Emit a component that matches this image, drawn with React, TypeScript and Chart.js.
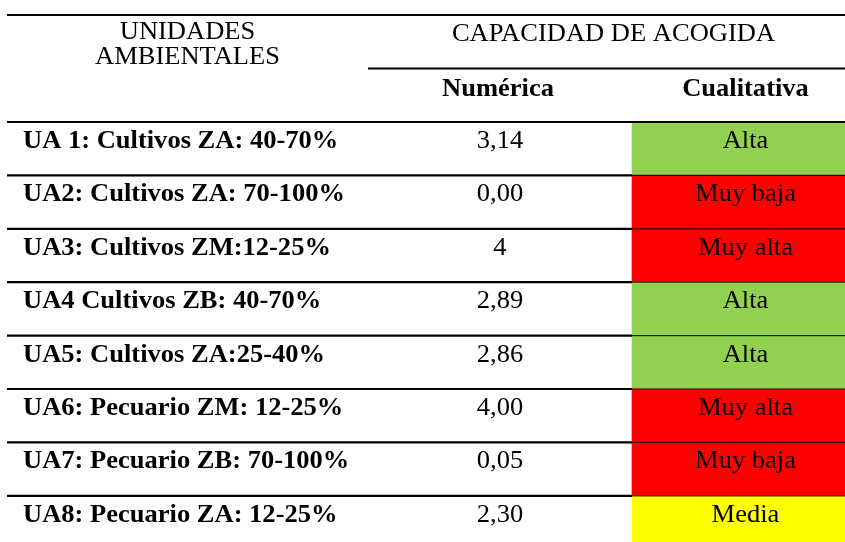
import React, { useEffect, useRef } from "react";
import { Chart, registerables } from "chart.js";

Chart.register(...registerables);

// ---- data ----
const UNITS = [
  "UA 1: Cultivos ZA: 40-70%",
  "UA2: Cultivos ZA: 70-100%",
  "UA3: Cultivos ZM:12-25%",
  "UA4 Cultivos ZB: 40-70%",
  "UA5: Cultivos ZA:25-40%",
  "UA6: Pecuario ZM: 12-25%",
  "UA7: Pecuario ZB: 70-100%",
  "UA8: Pecuario ZA: 12-25%",
];
const NUMERIC = ["3,14", "0,00", "4", "2,89", "2,86", "4,00", "0,05", "2,30"];
const QUALITATIVE = ["Alta", "Muy baja", "Muy alta", "Alta", "Alta", "Muy alta", "Muy baja", "Media"];
const CLASS_COLORS: Record<string, string> = {
  Alta: "#92D050",
  "Muy baja": "#FF0000",
  "Muy alta": "#FF0000",
  Media: "#FFFF00",
};
const HEAD_UNITS = ["UNIDADES", "AMBIENTALES"];
const HEAD_CAP = "CAPACIDAD DE ACOGIDA";
const HEAD_NUM = "Numérica";
const HEAD_QUAL = "Cualitativa";

// ---- layout (pixels, x scale = canvas px) ----
const W = 845;
const H = 560;
const TABLE_LEFT = 7;
const COL2_LEFT = 368;
const COL3_LEFT = 632;
const COL3_RIGHT = 859;
const BODY_TOP = 122;
const ROW_H = 53.4;
const FONT_PX = 26;
const SX = 1.02;
const FONT_FAMILY = '"Liberation Serif", "Times New Roman", serif';

function drawText(ctx: CanvasRenderingContext2D, text: string, x: number, baseline: number, align: CanvasTextAlign, bold: boolean) {
  ctx.save();
  ctx.font = `${bold ? "bold " : ""}${FONT_PX}px ${FONT_FAMILY}`;
  ctx.fillStyle = "#000";
  ctx.textAlign = align;
  ctx.textBaseline = "alphabetic";
  ctx.translate(x, baseline);
  ctx.scale(SX, 1);
  ctx.fillText(text, 0, 0);
  ctx.restore();
}

function hline(ctx: CanvasRenderingContext2D, x0: number, x1: number, y: number, w: number) {
  ctx.save();
  ctx.strokeStyle = "#000";
  ctx.lineWidth = w;
  ctx.beginPath();
  ctx.moveTo(x0, y);
  ctx.lineTo(x1, y);
  ctx.stroke();
  ctx.restore();
}

const tablePlugin = {
  id: "tableText",
  afterDatasetsDraw(chart: any) {
    const ctx: CanvasRenderingContext2D = chart.ctx;
    const xs = chart.scales.x;
    const ys = chart.scales.y;
    const area = chart.chartArea;
    const band = (area.bottom - area.top) / UNITS.length;
    const px = (v: number) => xs.getPixelForValue(v);

    const c1 = (px(TABLE_LEFT) + px(COL2_LEFT)) / 2;
    const c2 = (px(COL2_LEFT) + px(COL3_LEFT)) / 2 - 1;
    const c3 = (px(COL3_LEFT) + px(COL3_RIGHT)) / 2;
    const c23 = (px(COL2_LEFT) + px(COL3_RIGHT)) / 2;

    // header
    hline(ctx, px(TABLE_LEFT), px(W), 15, 2.2);
    drawText(ctx, HEAD_UNITS[0], c1, 39, "center", false);
    drawText(ctx, HEAD_UNITS[1], c1, 64, "center", false);
    drawText(ctx, HEAD_CAP, c23, 40.5, "center", false);
    hline(ctx, px(COL2_LEFT), px(W), 68.5, 2.2);
    drawText(ctx, HEAD_NUM, c2 - 1, 95.5, "center", true);
    drawText(ctx, HEAD_QUAL, c3, 95.5, "center", true);

    // rows
    UNITS.forEach((u, i) => {
      const center = ys.getPixelForValue(i);
      const top = center - band / 2;
      if (i === 0) {
        hline(ctx, px(TABLE_LEFT), px(W), top, 2.2);
      } else {
        hline(ctx, px(TABLE_LEFT), px(COL3_LEFT), top, 2.2);
        ctx.save();
        ctx.globalAlpha = 0.8;
        hline(ctx, px(COL3_LEFT), px(W), top, 1.2);
        ctx.restore();
      }
      const base = top + 26;
      drawText(ctx, u, px(23), base, "left", true);
      drawText(ctx, NUMERIC[i], c2 + 1, base, "center", false);
      drawText(ctx, QUALITATIVE[i], c3, base, "center", false);
    });
  },
};

export default function App() {
  const ref = useRef<HTMLCanvasElement | null>(null);

  useEffect(() => {
    document.body.style.margin = "0";
    if (!ref.current) return;
    let chart: Chart | null = null;
    let cancelled = false;
    const make = () => {
      if (cancelled || !ref.current) return;
      chart = new Chart(ref.current, {
        type: "bar",
        data: {
          labels: UNITS,
          datasets: [
            {
              data: UNITS.map(() => [COL3_LEFT, COL3_RIGHT]) as any,
              backgroundColor: QUALITATIVE.map((q) => CLASS_COLORS[q]),
              borderWidth: 0,
              barPercentage: 1,
              categoryPercentage: 1,
            },
          ],
        },
        options: {
          indexAxis: "y",
          animation: false,
          responsive: false,
          events: [],
          layout: {
            padding: { top: BODY_TOP, bottom: H - (BODY_TOP + ROW_H * UNITS.length), left: 0, right: 0 },
          },
          plugins: { legend: { display: false }, tooltip: { enabled: false } },
          scales: {
            x: { type: "linear", min: 0, max: W, display: false },
            y: { type: "category", offset: true, display: false },
          },
        },
        plugins: [tablePlugin],
      });
    };
    const fonts: any = (document as any).fonts;
    if (fonts && fonts.load) {
      Promise.all([
        fonts.load(`${FONT_PX}px "Liberation Serif"`),
        fonts.load(`bold ${FONT_PX}px "Liberation Serif"`),
      ]).then(make, make);
    } else {
      make();
    }
    return () => {
      cancelled = true;
      if (chart) chart.destroy();
    };
  }, []);

  return (
    <div style={{ width: W, height: 542, overflow: "hidden", background: "#fff" }}>
      <canvas ref={ref} width={W} height={H} style={{ width: W, height: H, display: "block" }} />
    </div>
  );
}
